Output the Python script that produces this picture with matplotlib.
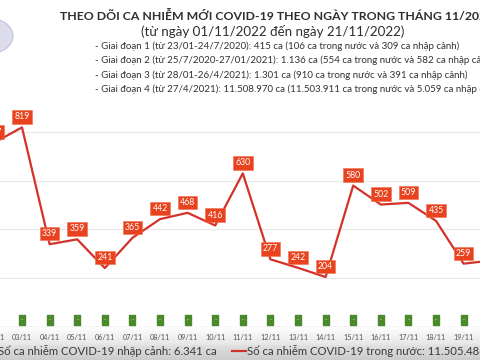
import matplotlib
matplotlib.use("Agg")
import matplotlib.pyplot as plt
import matplotlib.transforms as mtransforms
import numpy as np
from matplotlib.patches import Ellipse

plt.rcParams['font.family'] = ['Lato', 'Noto Sans', 'DejaVu Sans']

# Data (02/11 and 20/11 are only partly visible)
dates = ["02/11", "03/11", "04/11", "05/11", "06/11", "07/11", "08/11", "09/11", "10/11",
         "11/11", "12/11", "13/11", "14/11", "15/11", "16/11", "17/11", "18/11", "19/11", "20/11"]
domestic = [757, 819, 339, 359, 241, 365, 442, 468, 416, 630, 277, 242, 204, 580, 502, 509, 435, 259, 272]
imported = [0] * len(dates)

title = "THEO DÕI CA NHIỄM MỚI COVID-19 THEO NGÀY TRONG THÁNG 11/2022"
subtitle = "(từ ngày 01/11/2022 đến ngày 21/11/2022)"
notes = [
    "- Giai đoạn 1 (từ 23/01-24/7/2020): 415 ca (106 ca trong nước và 309 ca nhập cảnh)",
    "- Giai đoạn 2 (từ 25/7/2020-27/01/2021): 1.136 ca (554 ca trong nước và 582 ca nhập cảnh)",
    "- Giai đoạn 3 (từ 28/01-26/4/2021): 1.301 ca (910 ca trong nước và 391 ca nhập cảnh)",
    "- Giai đoạn 4 (từ 27/4/2021): 11.508.970 ca (11.503.911 ca trong nước và 5.059 ca nhập cảnh)",
]
legend_import = "Số ca nhiễm COVID-19 nhập cảnh: 6.341 ca"
legend_domestic = "Số ca nhiễm COVID-19 trong nước: 11.505.486 ca"

W, H = 480, 360
fig = plt.figure(figsize=(4.8, 3.6), dpi=100)
fig.patch.set_facecolor("white")

# Grey band at the bottom (screenshot shading)
bg = fig.add_axes([0, 0, 1, 33 / H], zorder=0)
grad = np.linspace(0.80, 0.975, 64).reshape(-1, 1)
grad = np.clip(grad + np.where(np.linspace(0, 1, 64) > 0.45, 0.02, 0).reshape(-1, 1), 0, 1)
bg.imshow(grad, cmap="gray", vmin=0, vmax=1, aspect="auto", extent=[0, 1, 0, 1], origin="lower")
bg.axis("off")

# Partial logo at the top left + legend line, in figure pixels
deco = fig.add_axes([0, 0, 1, 1], zorder=1)
deco.set_xlim(0, W)
deco.set_ylim(H, 0)
deco.axis("off")
deco.add_patch(Ellipse((-12, 36), 50, 36, fc="#dcdcec", ec="#c4c4dc", lw=0.8))
deco.plot([232, 246], [351, 351], color="#d3322b", lw=1.6)

# Main axes, wider than the figure so that the chart looks cropped
px_step = 27.6
left_px = -5.6 - px_step / 2
right_px = left_px + px_step * len(dates)
bottom_px = 326.7
top_px = 107.7
rect = [left_px / W, (H - bottom_px) / H, (right_px - left_px) / W, (bottom_px - top_px) / H]
ax = fig.add_axes(rect, zorder=2)
ax.set_facecolor("none")

x = np.arange(len(dates))
ax.set_xlim(-0.5, len(dates) - 0.5)
ax.set_ylim(0, 900)

for v in [200, 400, 600, 800]:
    ax.axhline(v, color="#e8e8e8", lw=0.9, zorder=0)
ax.axhline(0, color="#d4d4d4", lw=1.0, zorder=1)

ax.plot(x, domestic, color="#d3322b", lw=1.6, zorder=3)

for xi, v in zip(x, domestic):
    ax.annotate(str(v), (xi, v), xytext=(0, 7.5), textcoords="offset points",
                ha="center", va="center", fontsize=6.3, color="white", zorder=5,
                annotation_clip=False,
                bbox=dict(boxstyle="square,pad=0.25", fc="#e8431e", ec="#f07050", lw=0.4))

ax.set_xticks(x)
ax.set_xticklabels(dates, fontsize=5.2, color="#555555")
ax.tick_params(axis="x", length=0, pad=5)
ax.set_yticks([])
for s in ax.spines.values():
    s.set_visible(False)

# Imported cases (all zero): green "-" labels just above the baseline, own overlay axes
ov = fig.add_axes(rect, zorder=3)
ov.set_xlim(ax.get_xlim())
ov.set_ylim(ax.get_ylim())
ov.axis("off")
lift = mtransforms.offset_copy(ov.transData, fig=fig, x=0, y=6.5, units="dots")
box = [(-0.75, -1), (0.75, -1), (0.75, 1), (-0.75, 1), (-0.75, -1)]
ov.scatter(x, imported, marker=box, s=44, color="#4a8a2a", transform=lift, clip_on=False, zorder=5)
for xi, v in zip(x, imported):
    ov.text(xi, v, "-", transform=lift, ha="center", va="center", fontsize=4,
            color="white", clip_on=False, zorder=6)

# Header texts
fig.text(60 / W, 1 - 16 / H, title, fontsize=8.8, fontweight="bold", color="#2e2e2e",
         ha="left", va="center")
fig.text(273 / W, 1 - 32 / H, subtitle, fontsize=9.6, color="#2e2e2e", ha="center", va="center")
for i, line in enumerate(notes):
    fig.text(95 / W, 1 - (46 + 14.5 * i) / H, line, fontsize=7.0, color="#333333",
             ha="left", va="center")

# Legend row at the bottom
fig.text(217 / W, 1 - 351 / H, legend_import, fontsize=8.2, color="#3a3a3a", ha="right", va="center")
fig.text(247 / W, 1 - 351 / H, legend_domestic, fontsize=8.2, color="#3a3a3a", ha="left", va="center")

fig.savefig("out.png", dpi=100)
